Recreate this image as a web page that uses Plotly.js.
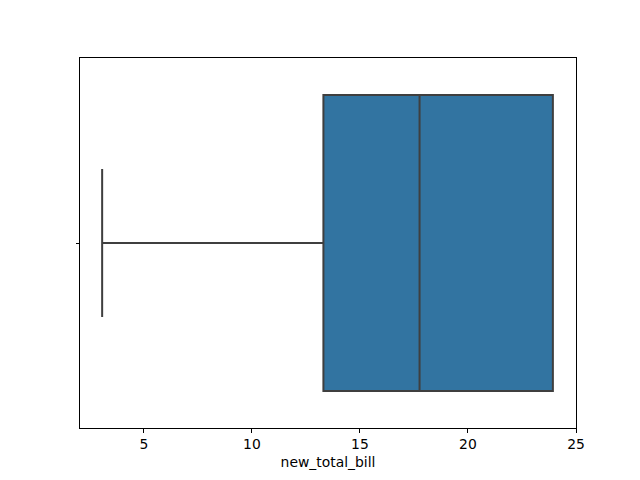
<!DOCTYPE html>
<html>
<head>
<meta charset="utf-8">
<script src="https://cdn.plot.ly/plotly-3.0.1.min.js"></script>
<style>html,body{margin:0;padding:0;background:#fff;}#chart{width:640px;height:480px;}</style>
</head>
<body>
<div id="chart"></div>
<script>
// Box statistics (new_total_bill)
const positions = [0];
const lowerFence = [3.07];
const q1 = [13.31];
const median = [17.76];
const q3 = [23.93];
const upperFence = [23.93];
const xTicks = [5, 10, 15, 20, 25];
const xLabel = 'new_total_bill';

const trace = {
  type: 'box',
  orientation: 'h',
  y: positions,
  q1: q1,
  median: median,
  q3: q3,
  lowerfence: lowerFence,
  upperfence: upperFence,
  width: 0.8,
  whiskerwidth: 0.5,
  fillcolor: '#3274a1',
  line: {color: '#3f3f3f', width: 2},
  boxpoints: false,
  hoverinfo: 'skip',
  showlegend: false
};

const layout = {
  width: 640,
  height: 480,
  margin: {l: 80, r: 64, t: 58, b: 52, pad: 0},
  paper_bgcolor: '#ffffff',
  plot_bgcolor: '#ffffff',
  font: {family: 'DejaVu Sans', size: 13.9, color: '#000000'},
  showlegend: false,
  xaxis: {
    range: [2.045, 25.0],
    tickvals: xTicks,
    ticktext: xTicks.map(String),
    ticks: 'outside',
    ticklen: 3.5,
    tickwidth: 1,
    tickcolor: '#000',
    showline: true,
    linecolor: '#000',
    linewidth: 1,
    mirror: true,
    showgrid: false,
    zeroline: false,
    tickfont: {family: 'DejaVu Sans', size: 13.9, color: '#000'},
    title: {text: xLabel, font: {family: 'DejaVu Sans', size: 13.9, color: '#000'}, standoff: 6},
    automargin: false
  },
  yaxis: {
    range: [0.5, -0.5],
    tickvals: positions,
    ticktext: [''],
    ticks: 'outside',
    ticklen: 3.5,
    tickwidth: 1,
    tickcolor: '#000',
    showline: true,
    linecolor: '#000',
    linewidth: 1,
    mirror: true,
    showgrid: false,
    zeroline: false,
    automargin: false
  }
};

Plotly.newPlot('chart', [trace], layout, {displayModeBar: false, staticPlot: true});
</script>
</body>
</html>
